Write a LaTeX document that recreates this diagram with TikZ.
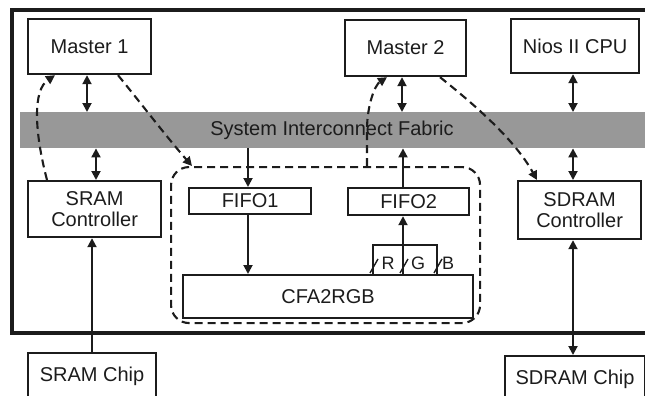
\documentclass[tikz,border=0pt]{standalone}
\usepackage{fontspec}
\setmainfont{Liberation Sans}
\usetikzlibrary{arrows.meta,calc}
\definecolor{fabgray}{RGB}{152,152,152}
\definecolor{ink}{RGB}{28,28,28}
\begin{document}
\begin{tikzpicture}[x=1pt,y=-1pt,
  box/.style={draw=ink, line width=2.2pt, anchor=north west, inner sep=0pt,
    align=center, text=ink, font=\fontsize{20}{21}\selectfont},
  con/.style={draw=ink, line width=1.9pt},
  dcon/.style={draw=ink, line width=2.1pt, dash pattern=on 8pt off 5pt},
  lbl/.style={text=ink, inner sep=0pt, font=\fontsize{18}{18}\selectfont},
  >={Triangle[length=9pt,width=9pt]}]
\begin{scope}
\clip (0,0) rectangle (645,396);
% outer board
\draw[ink, line width=3.2pt] (12,10) rectangle (655,333);
% interconnect fabric
\node[fill=fabgray, minimum width=640pt, minimum height=36pt, anchor=north west,
  inner sep=0pt, text=ink, font=\fontsize{20}{21}\selectfont] (fab) at (20,112) {};
\node[text=ink, inner sep=0pt, font=\fontsize{20}{21}\selectfont] (fabtxt) at (fab.center -| 332,0) {System Interconnect Fabric};
% blocks
\node[box, minimum width=123pt, minimum height=55pt] (m1) at (27,18) {Master 1};
\node[box, minimum width=121pt, minimum height=56pt] (m2) at (344,19) {Master 2};
\node[box, minimum width=128pt, minimum height=54pt] (nios) at (510,18) {Nios II CPU};
\node[box, minimum width=133pt, minimum height=56pt] (sramc) at (27,180) {SRAM\\Controller};
\node[box, minimum width=123pt, minimum height=58pt] (sdramc) at (517,180) {SDRAM\\Controller};
\node[box, minimum width=122pt, minimum height=26pt] (fifo1) at (188,187) {FIFO1};
\node[box, minimum width=121pt, minimum height=27pt] (fifo2) at (347,187) {FIFO2};
\node[box, minimum width=290pt, minimum height=43pt] (cfa) at (182,274) {CFA2RGB};
\node[box, minimum width=128pt, minimum height=46pt] (sramchip) at (27,352) {SRAM Chip};
\node[box, minimum width=140pt, minimum height=46pt] (sdramchip) at (504,355) {SDRAM Chip};
% dashed group
\node[draw=ink, line width=2.1pt, dash pattern=on 8pt off 5pt, rounded corners=18pt,
  minimum width=309pt, minimum height=156pt, anchor=north west, inner sep=0pt] (grp) at (170,166) {};
% x positions
\coordinate (xa) at (87,0);
\coordinate (xb) at (96,0);
\coordinate (xc) at (248,0);
\coordinate (xg) at (403,0);
\coordinate (xr) at (373,0);
\coordinate (xbl) at (437,0);
\coordinate (xm2) at (402,0);
\coordinate (xn) at (573,0);
\coordinate (xs) at (92,0);
\coordinate (xd1) at (47,0);
\coordinate (xd2) at (55,0);
\coordinate (xd3) at (118,0);
\coordinate (xd4) at (192,0);
\coordinate (xd5) at (367,0);
\coordinate (xd6) at (387,0);
\coordinate (xd7) at (440,0);
\coordinate (xd8) at (537,0);
\coordinate (rgbtop) at (0,245);
% solid connectors
\draw[con,<->] (m1.south -| xa) -- (fab.north -| xa);
\draw[con,<->] (fab.south -| xb) -- (sramc.north -| xb);
\draw[con,->] (fab.south -| xc) -- (fifo1.north -| xc);
\draw[con,->] (fifo1.south -| xc) -- (cfa.north -| xc);
\draw[con,<->] (m2.south -| xm2) -- (fab.north -| xm2);
\draw[con,->] (cfa.north -| xg) -- (fifo2.south -| xg);
\draw[con,->] (fifo2.north -| xg) -- (fab.south -| xg);
\draw[con,<->] (nios.south -| xn) -- (fab.north -| xn);
\draw[con,<->] (fab.south -| xn) -- (sdramc.north -| xn);
\draw[con,<->] (sdramc.south -| xn) -- (sdramchip.north -| xn);
\draw[con,->] (sramchip.north -| xs) -- (sramc.south -| xs);
% RGB bus
\draw[con] (cfa.north -| xr) -- (rgbtop -| xr) -- (rgbtop -| xbl) -- (cfa.north -| xbl);
\draw[con, line width=1.4pt] (370,273) -- (378,259);
\draw[con, line width=1.4pt] (400,273) -- (408,259);
\draw[con, line width=1.4pt] (434,273) -- (442,259);
\node[lbl] (lr) at (388,263) {R};
\node[lbl] (lg) at (418,263) {G};
\node[lbl] (lb) at (448,263) {B};
% dashed connectors
\draw[dcon,->] (sramc.north -| xd1) .. controls (34,130) and (33,90) .. (m1.south -| xd2);
\draw[dcon,->] (m1.south -| xd3) .. controls (140,102) and (165,135) .. (grp.north -| xd4);
\draw[dcon,->] (grp.north -| xd5) -- (367,130) .. controls (367,105) and (375,85) .. (m2.south -| xd6);
\draw[dcon,->] (m2.south -| xd7) .. controls (475,105) and (515,140) .. (sdramc.north -| xd8);
\end{scope}
\pgfresetboundingbox
\useasboundingbox (0,0) rectangle (645,396);
\end{tikzpicture}
\end{document}
